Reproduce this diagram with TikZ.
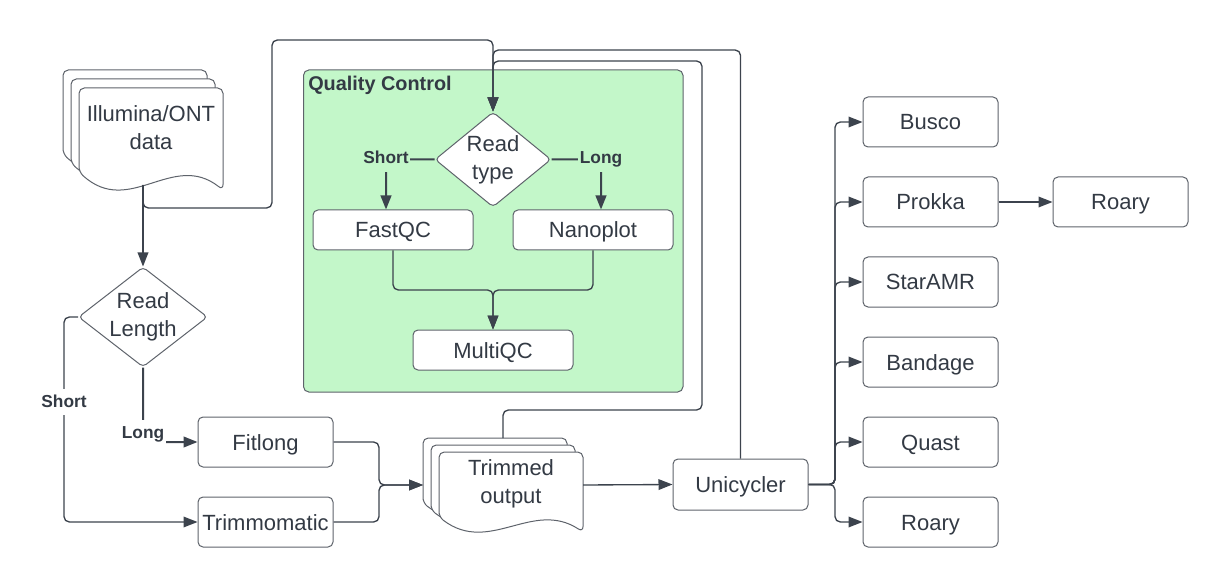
\documentclass[tikz,border=0pt]{standalone}
\usepackage{fontspec}
\setmainfont{Liberation Sans}
\usetikzlibrary{shapes.geometric,arrows.meta}
\definecolor{ln}{HTML}{3C434D}
\definecolor{bd}{HTML}{5E636B}
\definecolor{tx}{HTML}{333A44}
\definecolor{qcg}{HTML}{C3F7C9}
\newcommand\docsh[5]{%
  \path[docst] (#1,{#2+#4-#5}) -- (#1,#2) -- ({#1+#3},#2) -- ({#1+#3},{#2+#4})
    .. controls ({#1+0.65*#3},{#2+#4-2.2*#5}) and ({#1+0.35*#3},{#2+#4+1.55*#5}) .. (#1,{#2+#4-#5}) -- cycle;}
\begin{document}
\begin{tikzpicture}[x=0.75pt,y=-0.75pt,
  box/.style={draw=bd, line width=0.75pt, rounded corners=3.75pt, fill=white, text=tx,
    font=\fontsize{16.5}{21}\selectfont, inner sep=0pt, text height=15pt, text depth=3pt,
    minimum width=101.25pt, minimum height=37.5pt},
  qcbox/.style={box, minimum width=120pt, minimum height=30pt},
  diam/.style={diamond, draw=bd, line width=0.75pt, rounded corners=3pt, fill=white, text=tx,
    font=\fontsize{16.5}{21}\selectfont, align=center, inner sep=-6pt},
  conn/.style={draw=ln, line width=1pt, rounded corners=4pt},
  arr/.style={conn, -{Triangle[length=10.5pt,width=8pt]}},
  qarr/.style={arr, line width=1.5pt},
  lbl/.style={font=\bfseries\fontsize{13}{15}\selectfont, text=tx, inner xsep=1pt, inner ysep=3pt,
    text height=11pt, text depth=2.5pt},
  docst/.style={draw=bd, line width=0.75pt, fill=white, rounded corners=4pt},
  doctext/.style={text=tx, font=\fontsize{16.5}{21}\selectfont, align=center, inner sep=0pt},
]
\useasboundingbox (0,0) rectangle (1229,588);

% Quality control group
\path[draw=bd, fill=qcg, line width=0.75pt, rounded corners=4pt] (303.5,70) rectangle (683,392);
\node[font=\bfseries\fontsize{14.9}{17}\selectfont, text=tx, anchor=west, inner sep=0pt] (qct) at (308,85) {Quality Control};

% document stacks
\docsh{63}{70}{144}{102}{18}
\docsh{71}{79}{144}{102}{18}
\docsh{79}{88}{144}{102}{18}
\node[doctext] (ill) at (151,128) {Illumina/ONT\\data};

\docsh{423}{438}{144}{80}{15}
\docsh{431}{445}{144}{80}{15}
\docsh{439}{452}{144}{80}{15}
\node[doctext] (trm) at (511,484) {Trimmed\\output};

% decision nodes
\node[diam, minimum width=87pt, minimum height=71.25pt] (rt) at (493,159.5) {Read\\type};
\node[diam, minimum width=96.75pt, minimum height=75pt] (rl) at (143,317) {\raisebox{1.5pt}{\begin{tabular}{@{}c@{}}Read\\Length\end{tabular}}};

% boxes
\node[qcbox] (fastqc) at (393,230) {FastQC};
\node[qcbox] (nanoplot) at (593,230) {Nanoplot};
\node[qcbox] (multiqc) at (493,350) {MultiQC};
\node[box] (fitlong) at (265.5,442) {Fitlong};
\node[box] (trimmo) at (265.5,522) {Trimmomatic};
\node[box, minimum height=38.25pt] (uni) at (740.5,484.5) {Unicycler};
\node[box] (busco) at (930.5,122) {Busco};
\node[box] (prokka) at (930.5,202) {Prokka};
\node[box] (staramr) at (930.5,282) {StarAMR};
\node[box] (bandage) at (930.5,362) {Bandage};
\node[box] (quast) at (930.5,442) {Quast};
\node[box] (roaryb) at (930.5,522) {Roary};
\node[box] (roaryr) at (1120.5,202) {Roary};

% connector end points on the documents
\coordinate (illb) at (143,185);
\coordinate (trmtop) at (503,438);
\coordinate (trmin) at (423,485);
\coordinate (trmout) at (583,485);

% connectors into Read type
\draw[arr] (illb) -- (143,208) -- (272,208) -- (272,40) -- (493,40) -- (rt.north);
\draw[arr] (trmtop) -- (503,410) -- (702,410) -- (702,61) -- (493,61) -- (rt.north);
\draw[arr] (uni.north) -- (740.5,50) -- (493,50) -- (rt.north);

% Illumina to Read Length
\draw[arr] (illb) -- (rl.north);

% Read Length branches
\draw[arr] (rl.west) -- (64,317) -- (64,522) -- (trimmo.west);
\node[lbl, fill=white] (lshort) at (64,402) {Short};
\draw[arr, line width=1.5pt] (rl.south) -- (143,442) -- (fitlong.west);
\node[lbl, fill=white] (llong) at (143,433) {Long};

% into Trimmed output
\draw[arr] (fitlong.east) -- (379,442) -- (379,485) -- (trmin);
\draw[arr] (trimmo.east) -- (379,522) -- (379,485) -- (trmin);
\draw[arr] (trmout) -- (uni.west);

% Quality control internals
\draw[qarr] (rt.west) -| ([xshift=-5.25pt]fastqc.north);
\node[lbl, fill=qcg, minimum height=21pt] (qshort) at (386,158) {Short};
\draw[qarr] (rt.east) -| ([xshift=6pt]nanoplot.north);
\node[lbl, fill=qcg, minimum height=21pt] (qlong) at (601,158) {Long};
\draw[arr] (fastqc.south) -- (393,290) -- (493,290) -- (multiqc.north);
\draw[arr] (nanoplot.south) -- (593,290) -- (493,290) -- (multiqc.north);

% Unicycler to analyses
\foreach \t in {busco,prokka,staramr,bandage,quast,roaryb}
  \draw[arr] (uni.east) -- (835,484.5) |- (\t.west);
\draw[arr] (prokka.east) -- (roaryr.west);
\end{tikzpicture}
\end{document}
